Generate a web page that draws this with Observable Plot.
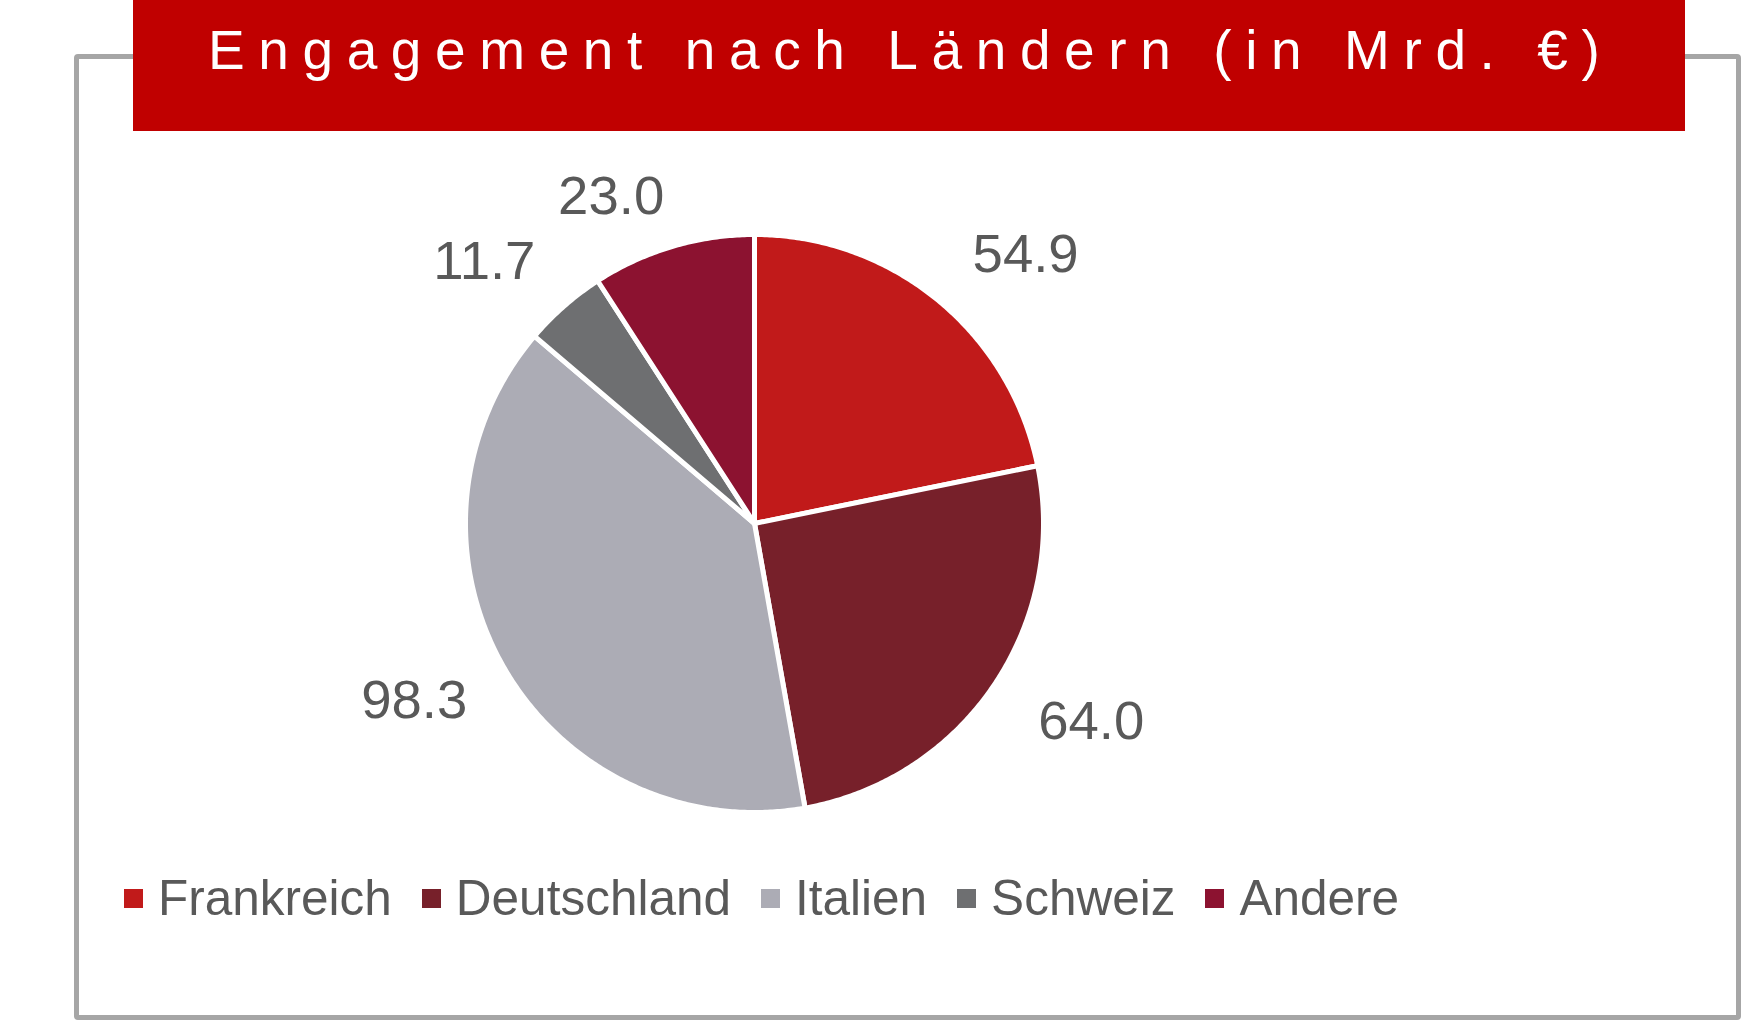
<!DOCTYPE html>
<html>
<head>
<meta charset="utf-8">
<script src="https://cdn.jsdelivr.net/npm/d3@7"></script>
<script src="https://cdn.jsdelivr.net/npm/@observablehq/plot@0.6"></script>
<style>
  html, body { margin: 0; padding: 0; background: #fff; }
  body { width: 1744px; height: 1023px; position: relative; overflow: hidden;
         font-family: Arial, "Liberation Sans", sans-serif; }
  #frame { position: absolute; left: 74px; top: 54px; width: 1657px; height: 956px;
           border: 5px solid #a6a6a6; border-radius: 4px; }
  #titlebox { position: absolute; left: 133px; top: 0; width: 1552px; height: 131px; background: #c00000; }
  #title { position: absolute; left: 208px; top: 23px; white-space: nowrap;
           font-size: 55px; line-height: 1; color: #fff; letter-spacing: 13.6px; }
  #chart { position: absolute; left: 0; top: 0; }
  #legend { position: absolute; left: 124px; top: 873px; display: flex; align-items: center;
            font-size: 49.5px; line-height: 1; color: #595959; white-space: nowrap; }
  .item { display: flex; align-items: center; margin-right: 30px; }
  .sw { width: 19px; height: 19px; margin-right: 15px; position: relative; top: 1px; }
</style>
</head>
<body>
<div id="frame"></div>
<div id="titlebox"></div>
<div id="title">Engagement nach Ländern (in Mrd. €)</div>
<div id="chart"></div>
<div id="legend"></div>
<script>
// Exposure by country, billions of euros
const countries = ["Frankreich", "Deutschland", "Italien", "Schweiz", "Andere"];
const values = [54.9, 64.0, 98.3, 11.7, 23.0];
const colors = ["#c11a1a", "#77202a", "#acacb5", "#6e6f71", "#8c1230"];

// Page layout (pixels)
const W = 1744, H = 1023;
const cx = 754, cy = 523, r = 289;

// Slices run clockwise from 12 o'clock in data order
const arcs = d3.pie().sort(null).value(d => d)(values);

// Closed polygon outline for each slice, in units of the pie radius
const slicePts = [];
arcs.forEach((a, i) => {
  const name = countries[i];
  slicePts.push({name, x: 0, y: 0});
  const n = Math.max(2, Math.ceil((a.endAngle - a.startAngle) / (Math.PI / 360)));
  for (let k = 0; k <= n; k++) {
    const t = a.startAngle + (a.endAngle - a.startAngle) * k / n;
    slicePts.push({name, x: Math.sin(t), y: Math.cos(t)});
  }
  slicePts.push({name, x: 0, y: 0});
});

// Value labels placed outside each slice along its mid-angle
const labelRx = 337 / r, labelRy = 316 / r, halfW = 53 / r, halfH = 22 / r;
const labelShiftX = 5 / r, labelShiftY = 2 / r;
const labels = arcs.map((a, i) => {
  const m = (a.startAngle + a.endAngle) / 2;
  const s = Math.sin(m), c = Math.cos(m);
  return {
    name: countries[i],
    value: values[i],
    x: labelShiftX + labelRx * s + halfW * Math.sign(s),
    y: labelShiftY + labelRy * c + halfH * Math.sign(c)
  };
});

const chart = Plot.plot({
  width: W,
  height: H,
  margin: 0,
  x: {domain: [-cx / r, (W - cx) / r], axis: null},
  y: {domain: [-(H - cy) / r, cy / r], axis: null},
  color: {domain: countries, range: colors},
  style: {background: "transparent", overflow: "visible"},
  marks: [
    Plot.line(slicePts, {
      x: "x", y: "y", z: "name", fill: "name",
      stroke: "white", strokeWidth: 5, strokeLinejoin: "round", curve: "linear"
    }),
    Plot.text(labels, {
      x: "x", y: "y", text: d => d3.format(".1f")(d.value),
      fill: "#595959", fontSize: 54.5, fontFamily: "Arial, 'Liberation Sans', sans-serif",
      textAnchor: "middle", lineAnchor: "middle"
    })
  ]
});
document.getElementById("chart").appendChild(chart);

// Legend built from the same categories and colours
const legend = d3.select("#legend");
countries.forEach((name, i) => {
  const item = legend.append("div").attr("class", "item");
  item.append("div").attr("class", "sw").style("background", colors[i]);
  item.append("span").text(name);
});
</script>
</body>
</html>
